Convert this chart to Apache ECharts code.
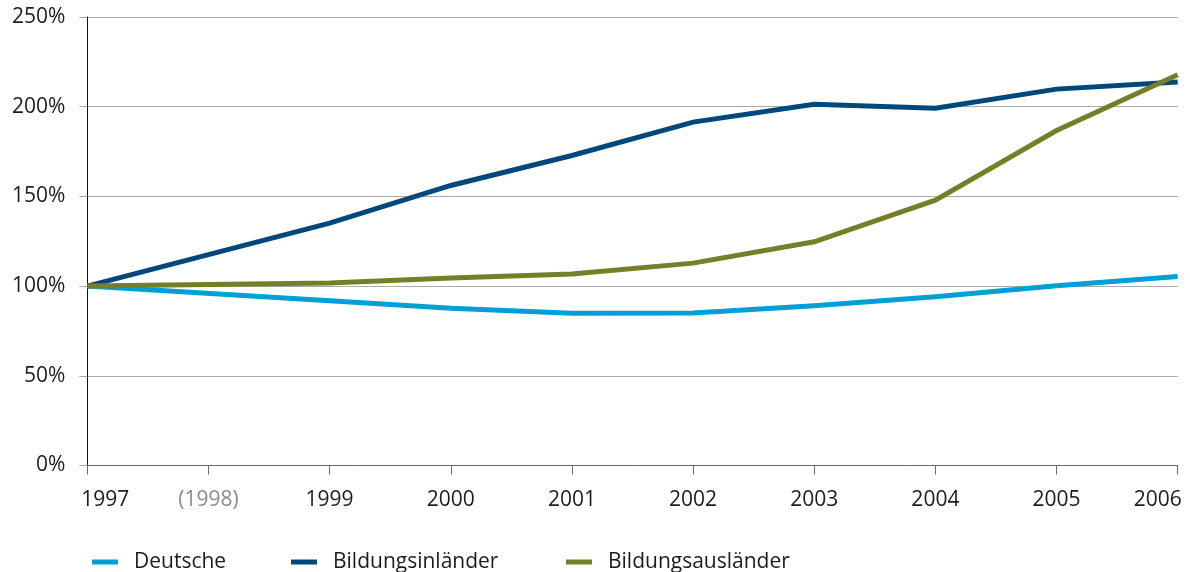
<!DOCTYPE html>
<html>
<head>
<meta charset="utf-8">
<script src="https://cdn.jsdelivr.net/npm/echarts@6/dist/echarts.min.js"></script>
<style>
  html, body { margin: 0; padding: 0; background: #fff; }
  #chart { width: 1190px; height: 572px; }
</style>
</head>
<body>
<div id="chart"></div>
<script>
// Studierende nach Herkunft, Index 1997 = 100 %
const years = ['1997', '1998', '1999', '2000', '2001', '2002', '2003', '2004', '2005', '2006'];
const seriesNames = ['Deutsche', 'Bildungsinländer', 'Bildungsausländer'];
// 1998 liegt kein Wert vor (Linie wird durchgezogen)
const deutsche = [100, null, 91.8, 87.6, 84.9, 85.0, 89.0, 94.0, 100.2, 105.3];
const bildungsinlaender = [100, null, 135.1, 156.1, 172.8, 191.4, 201.4, 199.2, 209.8, 213.8];
const bildungsauslaender = [100, null, 101.7, 104.5, 106.7, 112.8, 124.7, 147.9, 186.7, 217.8];
const yTicks = { min: 0, max: 250, interval: 50 };

const colors = ['#009fd6', '#00477c', '#757f28'];
const FONT = '"Open Sans", "Noto Sans", sans-serif';
const TEXT = '#1c1c1c';

const chart = echarts.init(document.getElementById('chart'), null, { renderer: 'canvas' });

function legendAt(left, idx) {
  return {
    left: left, top: 545,
    data: [seriesNames[idx]],
    icon: 'rect',
    itemWidth: 26, itemHeight: 5,
    selectedMode: false,
    textStyle: {
      fontFamily: FONT, fontSize: 21, color: TEXT,
      padding: [0, 0, 0, 11], lineHeight: 24
    }
  };
}

const seriesData = [deutsche, bildungsinlaender, bildungsauslaender];

chart.setOption({
  animation: false,
  backgroundColor: '#ffffff',
  color: colors,
  grid: { left: 87.3, right: 12.3, top: 17, bottom: 106.5, containLabel: false },
  legend: [legendAt(87, 0), legendAt(286, 1), legendAt(561, 2)],
  xAxis: {
    type: 'category',
    data: years,
    boundaryGap: false,
    axisLine: { lineStyle: { color: '#6a6a6a', width: 1 } },
    axisTick: { show: true, length: 9, lineStyle: { color: '#6a6a6a' } },
    axisLabel: {
      margin: 24,
      interval: 0,
      fontFamily: FONT, fontSize: 21, color: TEXT,
      formatter: function (v, i) {
        if (i === 0) return '{first|' + v + '}';
        if (i === years.length - 1) return '{last|' + v + '}';
        if (v === '1998') return '{miss|(' + v + ')}';
        return v;
      },
      rich: {
        first: { fontFamily: FONT, fontSize: 21, color: TEXT, padding: [0, 0, 0, 36] },
        last: { fontFamily: FONT, fontSize: 21, color: TEXT, padding: [0, 40, 0, 0] },
        miss: { fontFamily: FONT, fontSize: 21, color: '#8c8c8c' }
      }
    },
    splitLine: { show: false }
  },
  yAxis: {
    type: 'value',
    min: yTicks.min, max: yTicks.max, interval: yTicks.interval,
    axisLine: { show: true, lineStyle: { color: '#111', width: 1 } },
    axisTick: { show: true, length: 8, lineStyle: { color: '#aaaaaa' } },
    axisLabel: {
      margin: 22,
      fontFamily: FONT, fontSize: 21, color: TEXT,
      formatter: '{value}%'
    },
    splitLine: { show: true, lineStyle: { color: '#aaaaaa', width: 1.2 } }
  },
  series: seriesData.map(function (d, i) {
    return {
      name: seriesNames[i],
      type: 'line',
      data: d,
      connectNulls: true,
      showSymbol: false,
      symbol: 'none',
      z: 3 + i,
      lineStyle: { width: 5, color: colors[i], join: 'miter' },
      itemStyle: { color: colors[i] }
    };
  })
});
</script>
</body>
</html>
